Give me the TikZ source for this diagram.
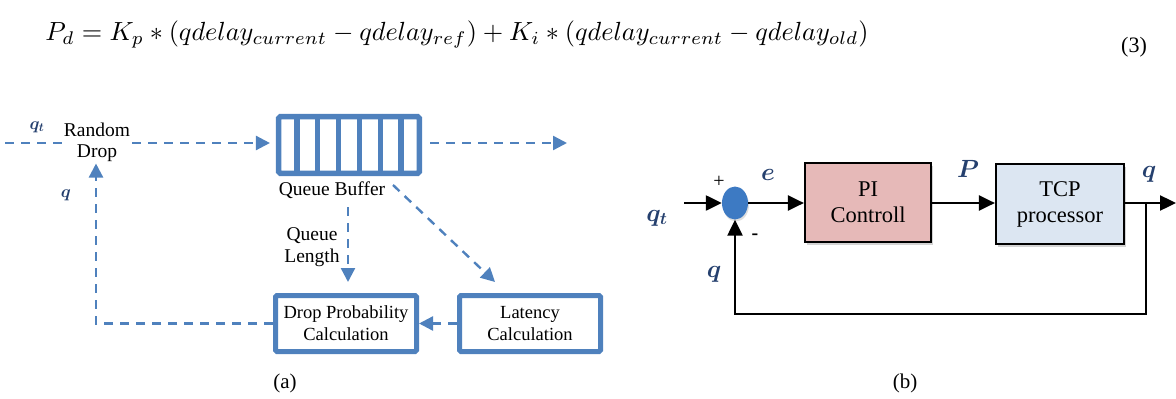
\documentclass[tikz,border=0pt]{standalone}
\usepackage{fontspec}
\setmainfont{Liberation Serif}
\usepackage{graphicx}
\usetikzlibrary{arrows.meta,calc,shadows,shapes.geometric}
\definecolor{qblue}{HTML}{4F81BD}
\definecolor{lblnavy}{HTML}{25406E}
\definecolor{pifill}{HTML}{E6B9B8}
\definecolor{tcpfill}{HTML}{DCE6F2}
\definecolor{sumblue}{HTML}{3D7AC3}
\tikzset{
  dashline/.style={qblue, line width=2.4pt, dash pattern=on 9pt off 7pt},
  dtip/.style={-{Triangle[length=14pt,width=14pt]}},
  qbox/.style={draw=qblue, line width=5pt, rounded corners=1.5pt, fill=white,
    align=center, font=\fontsize{18.5}{22}\selectfont, inner sep=0pt},
  plain/.style={align=center, inner sep=2pt},
  smalltxt/.style={plain, font=\fontsize{19.5}{22}\selectfont},
  mlabel/.style={inner sep=0pt, text=lblnavy},
  solidline/.style={black, line width=2.4pt},
  stip/.style={-{Triangle[length=16pt,width=15pt]}},
  ctlbox/.style={draw=black, line width=2.2pt, align=center, inner sep=0pt,
    font=\fontsize{22.5}{26}\selectfont,
    drop shadow={opacity=0.35, shadow xshift=2pt, shadow yshift=-2.5pt}},
}
\begin{document}
\begin{tikzpicture}[x=1pt,y=-1pt]
\useasboundingbox (0,0) rectangle (1176,399);

% equation (3)
\node (eq) at (457,34) {\resizebox{823pt}{!}{$P_d = K_p \ast (qdelay_{current} - qdelay_{ref}) + K_i \ast (qdelay_{current} - qdelay_{old})$}};
\node[plain, font=\fontsize{22}{26}\selectfont] (eqn) at (1134,47) {(3)};

% ---------- (a) queue with drop probability ----------
\node[smalltxt] (rd) at (97,142) {Random\\[-1pt]Drop};
\coordinate (inL) at (5,143);
\node[draw=qblue, line width=5.5pt, rounded corners=1.5pt, minimum width=140.6pt,
  minimum height=56.6pt, inner sep=0pt] (buf) at (349,145) {};
\foreach \k in {1,...,6}
  \draw[qblue, line width=5.5pt]
    ($(buf.north west)!\k/7!(buf.north east)$) -- ($(buf.south west)!\k/7!(buf.south east)$);
\node[smalltxt] (qbl) at (332,190) {Queue Buffer};
\coordinate (outR) at (567,143);

\node[qbox, minimum width=141pt, minimum height=56pt] (dp) at (346,323.5)
  {Drop Probability\\Calculation};
\node[qbox, minimum width=141pt, minimum height=56pt] (lat) at (530,323.5)
  {Latency\\Calculation};

\node[smalltxt] (qlen) at (312,247) {Queue\\Length};
\coordinate (qlTop) at (348,207);
\coordinate (latA) at (393,185);
\coordinate (latB) at (495,282);

\node[mlabel, font=\boldmath\fontsize{17}{19}\selectfont] (lqt) at (37,127) {$q_t$};
\node[mlabel, font=\boldmath\fontsize{17}{19}\selectfont] (lq) at (66,195) {$q$};

\draw[dashline] (inL) -- (rd.west |- inL);
\draw[dashline, dtip] (rd.east |- inL) -- ([xshift=-6pt]buf.west |- inL);
\draw[dashline, dtip] ([xshift=8pt]buf.east |- outR) -- (outR);
\draw[dashline, dtip] (qlTop) -- ([yshift=11pt]qlTop |- dp.north);
\draw[dashline, dtip] (latA) -- (latB);
\draw[dashline, dtip] (lat.west) -- (dp.east);
\draw[dashline, dtip] (dp.west) -| ([xshift=-1pt]rd.south);

\node[plain, font=\fontsize{21}{24}\selectfont] (capa) at (285,383) {(a)};

% ---------- (b) PI control loop ----------
\node[ellipse, fill=sumblue, minimum width=26pt, minimum height=33pt, inner sep=0pt,
  drop shadow={opacity=0.25, shadow xshift=1pt, shadow yshift=-2pt}] (sum) at (735,203) {};
\coordinate (inq) at (684,203);
\node[ctlbox, fill=pifill, minimum width=126pt, minimum height=79pt] (pi) at (868,202.5)
  {PI\\Controll};
\node[ctlbox, fill=tcpfill, minimum width=128pt, minimum height=80pt] (tcp) at (1060,204)
  {TCP\\processor};
\coordinate (out) at (1176,203);
\coordinate (tap) at (1146,203);

\draw[solidline, stip] (inq) -- (sum.west);
\draw[solidline, stip] (sum.east) -- (pi.west |- sum.east);
\draw[solidline, stip] (pi.east |- sum.east) -- (tcp.west |- sum.east);
\draw[solidline, stip] (tcp.east |- sum.east) -- (out);
\draw[solidline, stip, line join=miter] (tap) -- ++(0,111) -| (sum.south);

\node[plain, font=\fontsize{20}{22}\selectfont] (plus) at (719,182) {+};
\node[plain, font=\bfseries\fontsize{20}{22}\selectfont] (minus) at (755,237) {-};
\node[mlabel, font=\boldmath\fontsize{26}{30}\selectfont] (rqt) at (657,218) {$q_t$};
\node[mlabel, font=\boldmath\fontsize{24}{28}\selectfont] (re) at (768,175) {$e$};
\node[mlabel, font=\boldmath\fontsize{24}{28}\selectfont] (rp) at (968,169) {$P$};
\node[mlabel, font=\boldmath\fontsize{24}{28}\selectfont] (rq) at (1149,174) {$q$};
\node[mlabel, font=\boldmath\fontsize{24}{28}\selectfont] (rqf) at (714,274) {$q$};

\node[plain, font=\fontsize{21}{24}\selectfont] (capb) at (905,383) {(b)};
\end{tikzpicture}
\end{document}
